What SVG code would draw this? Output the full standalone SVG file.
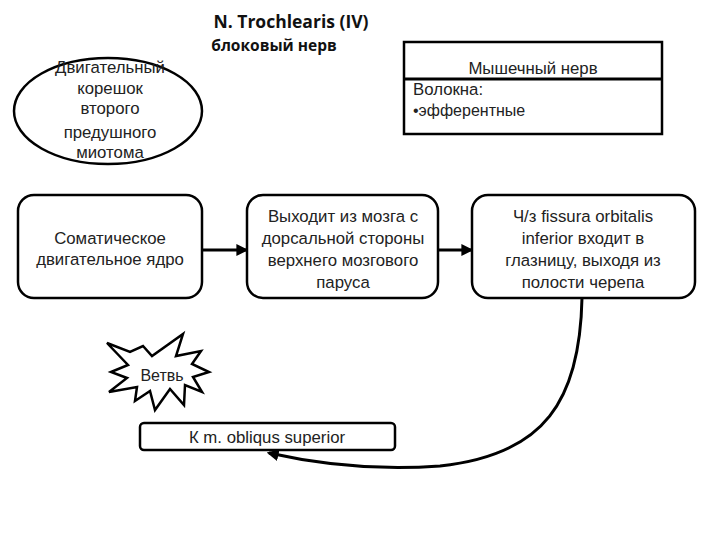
<svg xmlns="http://www.w3.org/2000/svg" width="720" height="540" viewBox="0 0 720 540">
<defs>
<style>
.t{font-family:"Liberation Sans",Arial,sans-serif;font-size:16.8px;fill:#222;text-anchor:middle}
.b{font-family:"Open Sans","Liberation Sans",sans-serif;font-size:17.5px;font-weight:bold;fill:#111;text-anchor:middle}
.s{fill:#fff;stroke:#000;stroke-width:2.5}
.c{fill:none;stroke:#000;stroke-width:3}
</style>
<marker id="ah" viewBox="0 0 10 10" refX="8" refY="5" markerWidth="4" markerHeight="4" orient="auto"><path d="M0,0 L10,5 L0,10 z" fill="#000"/></marker>
</defs>
<rect width="720" height="540" fill="#fff"/>
<g id="title">
<text class="b" x="291" y="28">N. Trochlearis (IV)</text>
<text class="b" x="274" y="51" style="font-size:15.5px">блоковый нерв</text>
</g>
<g id="root">
<ellipse class="s" cx="108" cy="111" rx="94" ry="53"/>
<text class="t" x="110" y="73">Двигательный</text>
<text class="t" x="110" y="94">корешок</text>
<text class="t" x="110" y="114">второго</text>
<text class="t" x="110" y="138">предушного</text>
<text class="t" x="110" y="158">миотома</text>
</g>
<g id="muscle">
<rect class="s" x="404" y="42" width="258" height="92"/>
<line x1="404" y1="79" x2="662" y2="79" stroke="#000" stroke-width="3"/>
<text class="t" x="533" y="74">Мышечный нерв</text>
<text class="t" x="413" y="95" style="text-anchor:start">Волокна:</text>
<text class="t" x="413" y="116" style="text-anchor:start;font-size:16px">•эфферентные</text>
</g>
<g id="nucleus">
<rect class="s" x="18" y="195" width="184" height="103" rx="16"/>
<text class="t" x="110" y="244">Соматическое</text>
<text class="t" x="110" y="265">двигательное ядро</text>
</g>
<g id="exit">
<rect class="s" x="247" y="195" width="191" height="103" rx="16"/>
<text class="t" x="343" y="222">Выходит из мозга с</text>
<text class="t" x="343" y="244">дорсальной стороны</text>
<text class="t" x="343" y="266">верхнего мозгового</text>
<text class="t" x="343" y="288">паруса</text>
</g>
<g id="orbit">
<rect class="s" x="472" y="195" width="223" height="103" rx="16"/>
<text class="t" x="583" y="222">Ч/з fissura orbitalis</text>
<text class="t" x="583" y="244">inferior входит в</text>
<text class="t" x="583" y="266">глазницу, выходя из</text>
<text class="t" x="583" y="288">полости черепа</text>
</g>
<g id="branch">
<polygon class="s" stroke-width="2" points="107,343 130,352 143,346 152,356 183,334 176,356 201,351 192,364 209,372 193,377 202,392 185,385 184,405 170,389 155,410 150,391 135,401 137,387 109,392 127,378 111,372 128,365"/>
<text class="t" x="162" y="381" style="font-size:16px">Ветвь</text>
</g>
<g id="target">
<rect class="s" x="140" y="423" width="255" height="27" rx="4"/>
<text class="t" x="267" y="443">К m. obliqus superior</text>
</g>
<g id="connectors">
<line class="c" x1="202" y1="250" x2="246" y2="250" marker-end="url(#ah)"/>
<line class="c" x1="438" y1="250" x2="471" y2="250" marker-end="url(#ah)"/>
<path class="c" d="M582,298 C580,400 545,455 440,466 C360,472 300,460 269,453" marker-end="url(#ah)"/>
</g>
</svg>
